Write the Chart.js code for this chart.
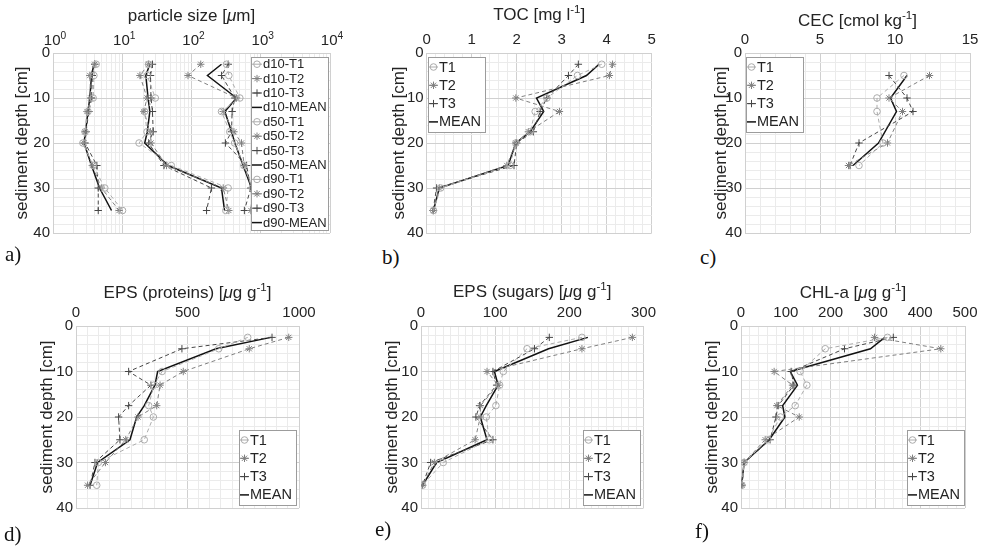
<!DOCTYPE html>
<html>
<head>
<meta charset="utf-8">
<script src="https://cdn.jsdelivr.net/npm/chart.js"></script>
<style>
  body { margin: 0; background: #fff; }
  #wrap { position: relative; width: 987px; height: 551px; overflow: hidden; background: #fff; }
  #wrap canvas { position: absolute; }
  .tag { position: absolute; font-family: "Liberation Serif", "Times New Roman", serif; font-size: 21px; line-height: 1; color: #111; }
</style>
</head>
<body>
<div id="wrap">
  <canvas id="pa"></canvas>
  <canvas id="pb"></canvas>
  <canvas id="pc"></canvas>
  <canvas id="pd"></canvas>
  <canvas id="pe"></canvas>
  <canvas id="pf"></canvas>
  <div class="tag" style="left:5px;top:244px">a)</div>
  <div class="tag" style="left:382px;top:247px">b)</div>
  <div class="tag" style="left:700px;top:247px">c)</div>
  <div class="tag" style="left:4px;top:524px">d)</div>
  <div class="tag" style="left:375px;top:519px">e)</div>
  <div class="tag" style="left:695px;top:521px">f)</div>
</div>
<script>
// sampling depths [cm]
const depth = [2.5, 5, 10, 13, 17.5, 20, 25, 30, 35];
const depthCEC = [5, 10, 13, 20, 25];
const depthTicks = [0, 10, 20, 30, 40];

// a) particle size [um]
const d10T1 = [4.2, 3.9, 3.8, 3.2, 2.9, 2.7, 3.8, 5.6, 10.1];
const d10T2 = [4.0, 3.4, 3.5, 3.1, 2.9, 2.8, 3.7, 5.0, 9.0];
const d10T3 = [4.0, 3.7, 3.6, 3.3, 3.0, 2.9, 4.3, 4.5, 4.5];
const d10Mean = [3.9, 3.6, 3.4, 3.2, 2.95, 2.8, 3.6, 4.7, 7.0];
const d50T1 = [24, 23, 30, 21, 22.8, 17.5, 51, 338, 313];
const d50T2 = [24, 18, 22.8, 20.5, 25.5, 26, 43.6, 287, 346];
const d50T3 = [27.3, 25.6, 26, 27.3, 28, 24, 40, 194, 165];
const d50Mean = [25, 21.9, 23.6, 25, 23, 21.1, 45.9, 271, 300];
const d90T1 = [320, 346, 499, 271, 357, 420, 570, 752, 804];
const d90T2 = [136, 89, 447, 287, 410, 527, 576, 760, 720];
const d90T3 = [339, 271, 423, 386, 378, 309, 624, 720, 580];
const d90Mean = [271, 170, 447, 303, 378, 423, 557, 736, 752];
const logTicks = [1, 10, 100, 1000, 10000];
const logTickExp = ['0', '1', '2', '3', '4'];

// b) TOC [mg/l]
const tocT1 = [3.89, 3.35, 2.67, 2.41, 2.30, 1.98, 1.85, 0.31, 0.15];
const tocT2 = [4.13, 4.06, 1.98, 2.95, 2.26, 1.98, 1.78, 0.28, 0.15];
const tocT3 = [3.37, 3.15, 2.67, 2.52, 2.37, 2.00, 1.94, 0.22, 0.14];
const tocMean = [3.83, 3.55, 2.44, 2.60, 2.30, 1.98, 1.81, 0.28, 0.15];
const tocTicks = [0, 1, 2, 3, 4, 5];

// c) CEC [cmol/kg]
const cecT1 = [10.6, 8.8, 8.8, 9.2, 7.6];
const cecT2 = [12.3, 9.6, 10.5, 9.5, 6.9];
const cecT3 = [9.6, 10.8, 11.2, 7.6, 7.0];
const cecMean = [10.8, 9.7, 10.1, 8.9, 7.2];
const cecTicks = [0, 5, 10, 15];

// d) EPS proteins [ug/g]
const protT1 = [770, 640, 386, 349, 326, 347, 306, 100, 93];
const protT2 = [954, 777, 481, 377, 362, 278, 223, 132, 52];
const protT3 = [879, 475, 236, 336, 236, 191, 197, 85, 63];
const protMean = [874, 628, 366, 354, 306, 272, 242, 97, 63];
const protTicks = [0, 500, 1000];

// e) EPS sugars [ug/g]
const sugT1 = [217, 143, 111, 106, 101, 88, 92, 30, 2];
const sugT2 = [285, 217, 89, 104, 80, 80, 73, 18, 2];
const sugT3 = [173, 153, 97, 102, 79, 74, 97, 13, 2];
const sugMean = [225, 172, 99, 104, 88, 80, 89, 21, 2];
const sugTicks = [0, 100, 200, 300];

// f) CHL-a [ug/g]
const chlT1 = [327, 188, 132, 147, 121, 88, 60, 7, 2];
const chlT2 = [298, 446, 74, 115, 80, 130, 54, 7, 2];
const chlT3 = [340, 231, 112, 118, 83, 78, 65, 7, 2];
const chlMean = [321, 289, 110, 126, 93, 98, 63, 7, 1.5];
const chlTicks = [0, 100, 200, 300, 400, 500];

const TXT = '#242424', MAJ = '#d0d0d0', MIN = '#ebebeb';
const FONT = '"Liberation Sans", Arial, Helvetica, sans-serif';
const TICK = 15, TITLE = 17;
Chart.defaults.font.family = FONT;
Chart.defaults.color = TXT;

const STY = {
  T1:   { color: '#acacac', dash: [4, 3], width: 1, marker: 'circle', r: 3.3 },
  T2:   { color: '#808080', dash: [4, 3], width: 1, marker: 'star', r: 3.7 },
  T3:   { color: '#464646', dash: [4, 3], width: 1, marker: 'cross', r: 3.7 },
  MEAN: { color: '#121212', dash: [], width: 1.5, marker: false, r: 0 }
};

function drawMarker(ctx, style, x, y, r) {
  ctx.beginPath();
  if (style === 'circle') {
    ctx.arc(x, y, r, 0, Math.PI * 2);
  } else {
    ctx.moveTo(x - r, y); ctx.lineTo(x + r, y);
    ctx.moveTo(x, y - r); ctx.lineTo(x, y + r);
    if (style === 'star') {
      const d = r * 0.707;
      ctx.moveTo(x - d, y - d); ctx.lineTo(x + d, y + d);
      ctx.moveTo(x - d, y + d); ctx.lineTo(x + d, y - d);
    }
  }
  ctx.stroke();
}

// text made of runs, some raised (superscript) or italic
function drawRuns(ctx, runs, cx, cy, size) {
  const font = r => (r.it ? 'italic ' : '') + (r.sup ? size * 0.68 : size) + 'px ' + FONT;
  let total = 0;
  runs.forEach(r => { ctx.font = font(r); r.w = ctx.measureText(r.t).width; total += r.w; });
  let x = cx - total / 2;
  ctx.textAlign = 'left';
  ctx.textBaseline = 'alphabetic';
  runs.forEach(r => {
    ctx.font = font(r);
    ctx.fillText(r.t, x, cy + size * 0.36 - (r.sup ? size * 0.42 : 0));
    x += r.w;
  });
}

// MATLAB style legend box inside the axes, plus rich x title / log tick labels
const extras = {
  id: 'extras',
  afterDatasetsDraw(chart, args, o) {
    const { ctx, chartArea: ca } = chart;
    const sets = chart.data.datasets;
    const L = o.legend;
    ctx.save();
    ctx.font = L.size + 'px ' + FONT;
    const tw = Math.max(...sets.map(s => ctx.measureText(s.label).width));
    const w = Math.round(L.textX + tw + L.padR);
    const h = Math.round(L.pad * 2 + (sets.length - 1) * L.rowH);
    const x = Math.round(L.corner[1] === 'e' ? ca.right - L.dx - w : ca.left + L.dx);
    const y = Math.round(L.corner[0] === 's' ? ca.bottom - L.dy - h : ca.top + L.dy);
    ctx.fillStyle = '#fff';
    ctx.fillRect(x, y, w, h);
    ctx.strokeStyle = '#9c9c9c';
    ctx.lineWidth = 1;
    ctx.strokeRect(x + 0.5, y + 0.5, w, h);
    sets.forEach((s, i) => {
      const cy = y + L.pad + i * L.rowH;
      const st = s._sty;
      ctx.strokeStyle = st.color;
      ctx.lineWidth = st.width;
      ctx.beginPath();
      ctx.moveTo(x + L.line0, cy); ctx.lineTo(x + L.line1, cy);
      ctx.stroke();
      if (st.marker) {
        ctx.lineWidth = 1;
        drawMarker(ctx, st.marker, x + (L.line0 + L.line1) / 2, cy, st.r);
      }
      ctx.fillStyle = TXT;
      ctx.font = L.size + 'px ' + FONT;
      ctx.textAlign = 'left';
      ctx.textBaseline = 'middle';
      ctx.fillText(s.label, x + L.textX, cy + 0.5);
    });
    ctx.restore();
  },
  afterDraw(chart, args, o) {
    const { ctx, chartArea: ca } = chart;
    ctx.save();
    ctx.fillStyle = TXT;
    drawRuns(ctx, o.title.map(r => Object.assign({}, r)), (ca.left + ca.right) / 2, o.titleY, TITLE);
    if (o.log) {
      const sx = chart.scales.x;
      logTicks.forEach((v, i) => {
        drawRuns(ctx, [{ t: '10' }, { t: logTickExp[i], sup: true }], sx.getPixelForValue(v) + 2, o.tickY, TICK);
      });
    }
    ctx.restore();
  }
};

function linearTicks(major, minor) {
  const a = major[0], b = major[major.length - 1];
  const n = Math.round((b - a) / minor);
  const out = [];
  for (let i = 0; i <= n; i++) out.push(+(a + i * minor).toFixed(6));
  return out;
}
function logMinorTicks() {
  const out = [];
  for (let k = 0; k < 4; k++) for (let m = 1; m < 10; m++) out.push(m * Math.pow(10, k));
  out.push(10000);
  return out;
}
const isIn = (arr, v) => arr.some(t => Math.abs(t - v) < 1e-6 * Math.max(1, Math.abs(t)));

function panel(id, P) {
  const cv = document.getElementById(id);
  cv.width = P.cw; cv.height = P.ch;
  cv.style.left = P.cx + 'px'; cv.style.top = P.cy + 'px';
  cv.style.width = P.cw + 'px'; cv.style.height = P.ch + 'px';

  const datasets = P.series.map(s => {
    const st = STY[s.kind];
    return {
      label: s.label,
      _sty: st,
      data: P.depths.map((d, i) => ({ x: s.values[i], y: d })),
      showLine: true,
      borderColor: st.color,
      borderWidth: st.width,
      borderDash: st.dash,
      pointStyle: st.marker || 'circle',
      pointRadius: st.r,
      pointBorderColor: st.color,
      pointBackgroundColor: 'rgba(0,0,0,0)',
      pointBorderWidth: 1,
      pointHoverRadius: st.r
    };
  });

  const xVals = P.log ? logMinorTicks() : linearTicks(P.xMajor, P.xMinor);
  const yVals = linearTicks(depthTicks, 2);

  return new Chart(cv, {
    type: 'scatter',
    data: { datasets },
    plugins: [extras],
    options: {
      responsive: false,
      animation: false,
      events: [],
      layout: { padding: { left: 0, top: 0, right: P.cx + P.cw - P.R, bottom: P.cy + P.ch - P.B } },
      plugins: {
        legend: { display: false },
        tooltip: { enabled: false },
        extras: { legend: P.legend, title: P.xTitle, titleY: P.titleY - P.cy, log: !!P.log, tickY: P.T - P.cy - 13 }
      },
      scales: {
        x: {
          type: P.log ? 'logarithmic' : 'linear',
          position: 'top',
          min: P.log ? 1 : P.xMajor[0],
          max: P.log ? 10000 : P.xMajor[P.xMajor.length - 1],
          afterBuildTicks: s => { s.ticks = xVals.map(v => ({ value: v })); },
          afterFit: s => { s.height = P.T - P.cy; },
          ticks: {
            autoSkip: false, maxRotation: 0, minRotation: 0, padding: 4,
            color: TXT, font: { size: TICK },
            callback: v => (!P.log && isIn(P.xMajor, v)) ? String(v) : ''
          },
          grid: {
            drawTicks: false,
            color: c => (c.tick && (P.log ? isIn(logTicks, c.tick.value) : isIn(P.xMajor, c.tick.value))) ? MAJ : MIN
          },
          border: { color: MAJ },
          title: { display: false }
        },
        y: {
          type: 'linear',
          reverse: true,
          min: 0, max: 40,
          afterBuildTicks: s => { s.ticks = yVals.map(v => ({ value: v })); },
          afterFit: s => { s.width = P.L - P.cx; },
          ticks: {
            autoSkip: false, padding: 3, color: TXT, font: { size: TICK },
            callback: v => isIn(depthTicks, v) ? String(v) : ''
          },
          grid: {
            drawTicks: false,
            color: c => (c.tick && isIn(depthTicks, c.tick.value)) ? MAJ : MIN
          },
          border: { color: MAJ },
          title: { display: true, text: 'sediment depth [cm]', color: TXT, font: { size: TITLE }, padding: { top: P.ytPad, bottom: 0 } }
        }
      }
    }
  });
}

const trio = (t1, t2, t3, mean, pre) => [
  { label: pre + 'T1', kind: 'T1', values: t1 },
  { label: pre + 'T2', kind: 'T2', values: t2 },
  { label: pre + 'T3', kind: 'T3', values: t3 },
  { label: pre + 'MEAN', kind: 'MEAN', values: mean }
];
const smallLegend = (corner, dx, dy) => ({ corner, dx, dy, size: 14.5, rowH: 18.3, pad: 10, line0: 1, line1: 10, textX: 11, padR: 4 });
const ugPerG = [{ t: '[' }, { t: 'μ', it: true }, { t: 'g g' }, { t: '-1', sup: true }, { t: ']' }];

panel('pa', {
  cx: 0, cy: 0, cw: 360, ch: 245, L: 53, T: 53, R: 330, B: 235, titleY: 15, ytPad: 12,
  log: true, xTitle: [{ t: 'particle size [' }, { t: 'μ', it: true }, { t: 'm]' }], depths: depth,
  series: [].concat(trio(d10T1, d10T2, d10T3, d10Mean, 'd10-'), trio(d50T1, d50T2, d50T3, d50Mean, 'd50-'), trio(d90T1, d90T2, d90T3, d90Mean, 'd90-')),
  legend: { corner: 'ne', dx: 2, dy: 4, size: 13, rowH: 14.4, pad: 7.2, line0: 1, line1: 11, textX: 12, padR: 1 }
});
panel('pb', {
  cx: 375, cy: 0, cw: 287, ch: 245, L: 426.7, T: 53, R: 651.7, B: 235, titleY: 14, ytPad: 14,
  xMajor: tocTicks, xMinor: 0.2, xTitle: [{ t: 'TOC [mg l' }, { t: '-1', sup: true }, { t: ']' }], depths: depth,
  series: trio(tocT1, tocT2, tocT3, tocMean, ''), legend: smallLegend('nw', 1, 4)
});
panel('pc', {
  cx: 700, cy: 0, cw: 287, ch: 245, L: 745, T: 53, R: 970, B: 235, titleY: 20, ytPad: 11,
  xMajor: cecTicks, xMinor: 1, xTitle: [{ t: 'CEC [cmol kg' }, { t: '-1', sup: true }, { t: ']' }], depths: depthCEC,
  series: trio(cecT1, cecT2, cecT3, cecMean, ''), legend: smallLegend('nw', 1, 4)
});
panel('pd', {
  cx: 0, cy: 270, cw: 320, ch: 250, L: 76, T: 326, R: 299, B: 508, titleY: 292, ytPad: 37,
  xMajor: protTicks, xMinor: 50, xTitle: [{ t: 'EPS (proteins) ' }].concat(ugPerG), depths: depth,
  series: trio(protT1, protT2, protT3, protMean, ''), legend: smallLegend('se', 3, 3)
});
panel('pe', {
  cx: 360, cy: 270, cw: 300, ch: 250, L: 421, T: 326, R: 645, B: 508, titleY: 291, ytPad: 22,
  xMajor: sugTicks, xMinor: 10, xTitle: [{ t: 'EPS (sugars) ' }].concat(ugPerG), depths: depth,
  series: trio(sugT1, sugT2, sugT3, sugMean, ''), legend: smallLegend('se', 3, 3)
});
panel('pf', {
  cx: 680, cy: 270, cw: 307, ch: 250, L: 741, T: 326, R: 965, B: 508, titleY: 292, ytPad: 22,
  xMajor: chlTicks, xMinor: 20, xTitle: [{ t: 'CHL-a ' }].concat(ugPerG), depths: depth,
  series: trio(chlT1, chlT2, chlT3, chlMean, ''), legend: smallLegend('se', 1, 3)
});
</script>
</body>
</html>
